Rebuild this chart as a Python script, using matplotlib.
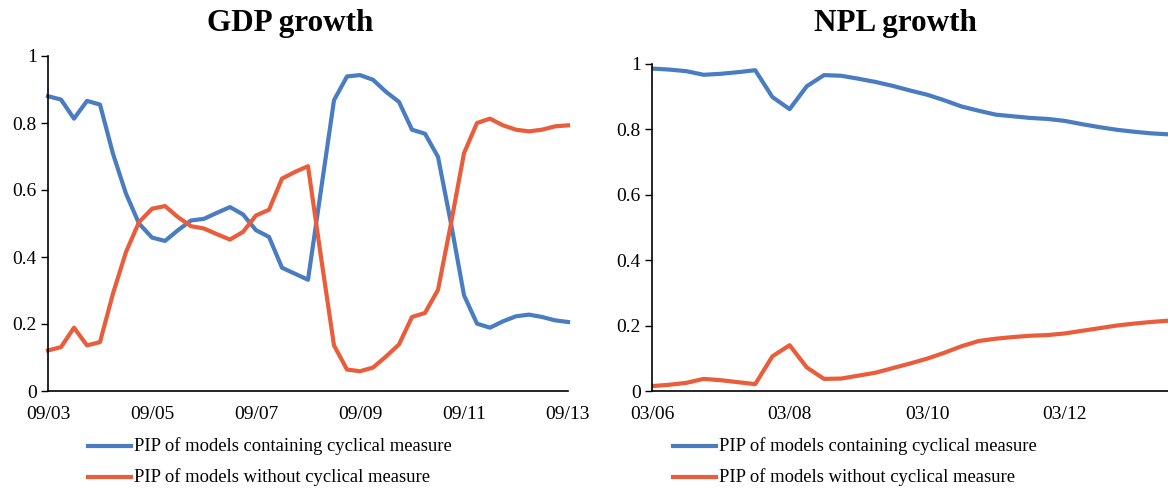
import matplotlib
matplotlib.use("Agg")
import matplotlib.pyplot as plt
from matplotlib.lines import Line2D
import numpy as np

plt.rcParams['font.family'] = ['Liberation Serif', 'DejaVu Serif']

# ---- data: GDP growth (quarterly 09/03 .. 09/13) ----
gdp_with = [0.880, 0.870, 0.813, 0.866, 0.855, 0.708, 0.589, 0.500, 0.458, 0.448,
            0.480, 0.509, 0.514, 0.532, 0.549, 0.527, 0.480, 0.460, 0.368, 0.350,
            0.332, 0.600, 0.868, 0.939, 0.943, 0.929, 0.893, 0.863, 0.780, 0.768,
            0.699, 0.500, 0.286, 0.201, 0.189, 0.208, 0.223, 0.228, 0.221, 0.211,
            0.206]
gdp_without = [0.121, 0.131, 0.189, 0.136, 0.146, 0.291, 0.415, 0.504, 0.544, 0.552,
               0.519, 0.492, 0.485, 0.468, 0.452, 0.475, 0.524, 0.541, 0.634, 0.654,
               0.671, 0.400, 0.136, 0.064, 0.059, 0.070, 0.103, 0.139, 0.221, 0.233,
               0.302, 0.500, 0.710, 0.800, 0.813, 0.793, 0.780, 0.775, 0.780, 0.790,
               0.793]
gdp_ticklabels = ['09/03', '09/05', '09/07', '09/09', '09/11', '09/13']

# ---- data: NPL growth (quarterly 03/06 .. 09/13) ----
npl_with = [0.986, 0.983, 0.978, 0.967, 0.970, 0.975, 0.981, 0.899, 0.862, 0.932,
            0.966, 0.964, 0.955, 0.945, 0.933, 0.919, 0.906, 0.889, 0.870, 0.857,
            0.845, 0.840, 0.835, 0.832, 0.826, 0.816, 0.807, 0.799, 0.793, 0.788,
            0.785]
npl_without = [0.015, 0.019, 0.025, 0.037, 0.033, 0.027, 0.021, 0.106, 0.140, 0.072,
               0.037, 0.038, 0.047, 0.056, 0.070, 0.084, 0.099, 0.117, 0.137, 0.153,
               0.160, 0.165, 0.169, 0.171, 0.176, 0.184, 0.192, 0.200, 0.206, 0.211,
               0.215]
npl_ticklabels = ['03/06', '03/08', '03/10', '03/12']

series_labels = ['PIP of models containing cyclical measure',
                 'PIP of models without cyclical measure']
titles = ['GDP growth', 'NPL growth']

BLUE = '#4A7CC2'
RED = '#E95D3A'
LW = 3.0
TICK_FS = 14
LEG_FS = 13.4
TITLE_FS = 22.4

W, H = 1168, 488
fig = plt.figure(figsize=(W / 100, H / 100), dpi=100)

def fx(px):
    return px / W

def fy(py):
    return 1 - py / H

ax1 = fig.add_axes([fx(48), fy(391), fx(568) - fx(48), fy(56) - fy(391)])
ax2 = fig.add_axes([fx(652), fy(391), fx(1168) - fx(652), fy(64) - fy(391)])

def style(ax, n, ticklabels):
    ax.set_ylim(0, 1)
    ax.set_xlim(0, n - 1)
    ax.set_yticks([0, 0.2, 0.4, 0.6, 0.8, 1.0])
    ax.set_yticklabels(['0', '0.2', '0.4', '0.6', '0.8', '1'])
    ax.set_xticks(np.arange(0, 8 * len(ticklabels), 8))
    ax.set_xticklabels(ticklabels)
    for s in ['top', 'right']:
        ax.spines[s].set_visible(False)
    for s in ['left', 'bottom']:
        ax.spines[s].set_linewidth(1.2)
        ax.spines[s].set_color('black')
    ax.tick_params(axis='y', length=5, width=1.0, pad=3, labelsize=TICK_FS)
    ax.tick_params(axis='x', length=0, pad=11, labelsize=TICK_FS)

x1 = np.arange(len(gdp_with))
ax1.plot(x1, gdp_with, color=BLUE, lw=LW, solid_joinstyle='round', clip_on=False)
ax1.plot(x1, gdp_without, color=RED, lw=LW, solid_joinstyle='round', clip_on=False)
style(ax1, len(gdp_with), gdp_ticklabels)

x2 = np.arange(len(npl_with))
ax2.plot(x2, npl_with, color=BLUE, lw=LW, solid_joinstyle='round')
ax2.plot(x2, npl_without, color=RED, lw=LW, solid_joinstyle='round')
style(ax2, len(npl_with), npl_ticklabels)

fig.text(fx(290), fy(23), titles[0], ha='center', va='center',
         fontsize=TITLE_FS, fontweight='bold')
fig.text(fx(895), fy(23), titles[1], ha='center', va='center',
         fontsize=TITLE_FS, fontweight='bold')

# legends (drawn manually below each panel)
def legend(x0, x1, xt, ys):
    for (lab, col), y in zip(zip(series_labels, [BLUE, RED]), ys):
        fig.add_artist(Line2D([fx(x0), fx(x1)], [fy(y), fy(y)], color=col,
                              lw=LW, transform=fig.transFigure))
        fig.text(fx(xt), fy(y), lab, ha='left', va='center', fontsize=LEG_FS)

legend(88, 131, 134, [446, 477])
legend(673, 716, 719, [446, 477])

fig.savefig('out.png', dpi=100)
